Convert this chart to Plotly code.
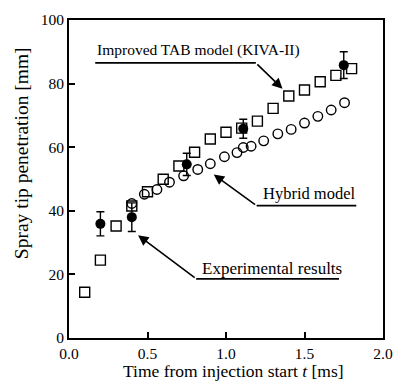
import plotly.graph_objects as go

# ---- data ----
tab_t = [0.1, 0.2, 0.3, 0.4, 0.5, 0.6, 0.7, 0.8, 0.9, 1.0, 1.1, 1.2, 1.3, 1.4, 1.5, 1.6, 1.7, 1.8]
tab_v = [14.4, 24.5, 35.2, 41.5, 46.0, 49.9, 54.1, 58.4, 62.6, 64.7, 66.0, 68.2, 72.2, 76.1, 78.0, 80.6, 82.6, 84.7]

hyb_t = [0.40, 0.48, 0.56, 0.64, 0.73, 0.82, 0.90, 0.99, 1.07, 1.11, 1.16, 1.24, 1.33, 1.415, 1.50, 1.585, 1.67, 1.755]
hyb_v = [42.3, 45.2, 46.7, 49.0, 51.0, 53.0, 54.8, 57.0, 58.3, 59.9, 60.3, 62.0, 64.2, 65.6, 67.6, 69.7, 71.7, 74.0]

exp_t = [0.2, 0.4, 0.75, 1.11, 1.75]
exp_v = [35.9, 38.0, 54.6, 65.8, 85.8]
exp_err = [3.8, 4.5, 3.5, 3.0, 4.2]

x_ticks = [0.0, 0.5, 1.0, 1.5, 2.0]
x_ticklabels = ["0.0", "0.5", "1.0", "1.5", "2.0"]
y_ticks = [0, 20, 40, 60, 80, 100]

x_title = "Time from injection start <i>t</i> [ms]"
y_title = "Spray tip penetration [mm]"

FONT = "Liberation Serif, Times New Roman, serif"

fig = go.Figure()
fig.add_trace(go.Scatter(
    x=tab_t, y=tab_v, mode="markers",
    marker=dict(symbol="square-open", size=10, color="black", line=dict(width=1.4)),
    showlegend=False, cliponaxis=False))
fig.add_trace(go.Scatter(
    x=hyb_t, y=hyb_v, mode="markers",
    marker=dict(symbol="circle-open", size=9.5, color="black", line=dict(width=1.4)),
    showlegend=False, cliponaxis=False))
fig.add_trace(go.Scatter(
    x=exp_t, y=exp_v, mode="markers",
    marker=dict(symbol="circle", size=10, color="black"),
    error_y=dict(type="data", array=exp_err, visible=True, color="black", thickness=1.4, width=4),
    showlegend=False, cliponaxis=False))

# ---- annotation texts with underlines and arrows ----
labels = [
    # text, font size, text x, text y, underline y, underline x0, x1, elbow x, arrow tip x, tip y
    ("Improved TAB model (KIVA-II)", 15.5, 0.167, 90.6, 86.5, 0.167, 1.19, 1.19, 1.36, 78.4),
    ("Hybrid model", 16.5, 1.22, 45.5, 41.6, 1.195, 1.83, 1.195, 0.922, 51.4),
    ("Experimental results", 17, 0.833, 21.7, 18.6, 0.81, 1.72, 0.81, 0.44, 32.3),
]
for txt, fs, tx, ty, uy, ux0, ux1, ex, ax_tip, ay_tip in labels:
    fig.add_annotation(x=tx, y=ty, text=txt, showarrow=False, xanchor="left", yanchor="middle",
                       font=dict(family=FONT, size=fs, color="black"))
    fig.add_shape(type="line", x0=ux0, x1=ux1, y0=uy, y1=uy, xref="x", yref="y",
                  line=dict(color="black", width=1.8))
    fig.add_annotation(x=ax_tip, y=ay_tip, ax=ex, ay=uy, axref="x", ayref="y",
                       xref="x", yref="y", text="", showarrow=True,
                       arrowhead=2, arrowsize=1.3, arrowwidth=1.6, arrowcolor="black")

# axis titles (placed as in the reference, slightly off-centre)
fig.add_annotation(x=0.523, y=-0.105, xref="paper", yref="paper", text=x_title, showarrow=False,
                   xanchor="center", yanchor="middle", font=dict(family=FONT, size=17.5, color="black"))
fig.add_annotation(x=-0.151, y=0.58, xref="paper", yref="paper", text=y_title, showarrow=False,
                   textangle=-90, xanchor="center", yanchor="middle",
                   font=dict(family=FONT, size=19.5, color="black"))

fig.update_xaxes(range=[0, 2.0], tickvals=x_ticks, ticktext=x_ticklabels,
                 showgrid=False, zeroline=False, showline=True, linecolor="black", linewidth=2,
                 mirror=True, ticks="inside", ticklen=6, tickwidth=1.5, tickcolor="black",
                 tickfont=dict(family=FONT, size=15.5, color="black"))
fig.update_yaxes(range=[0, 100], tickvals=y_ticks,
                 showgrid=False, zeroline=False, showline=True, linecolor="black", linewidth=2,
                 mirror=True, ticks="inside", ticklen=6, tickwidth=1.5, tickcolor="black",
                 tickfont=dict(family=FONT, size=15.5, color="black"))

fig.update_layout(width=404, height=384, margin=dict(l=69, r=11, t=16, b=46),
                  paper_bgcolor="white", plot_bgcolor="white")

fig.write_html("out.html")
